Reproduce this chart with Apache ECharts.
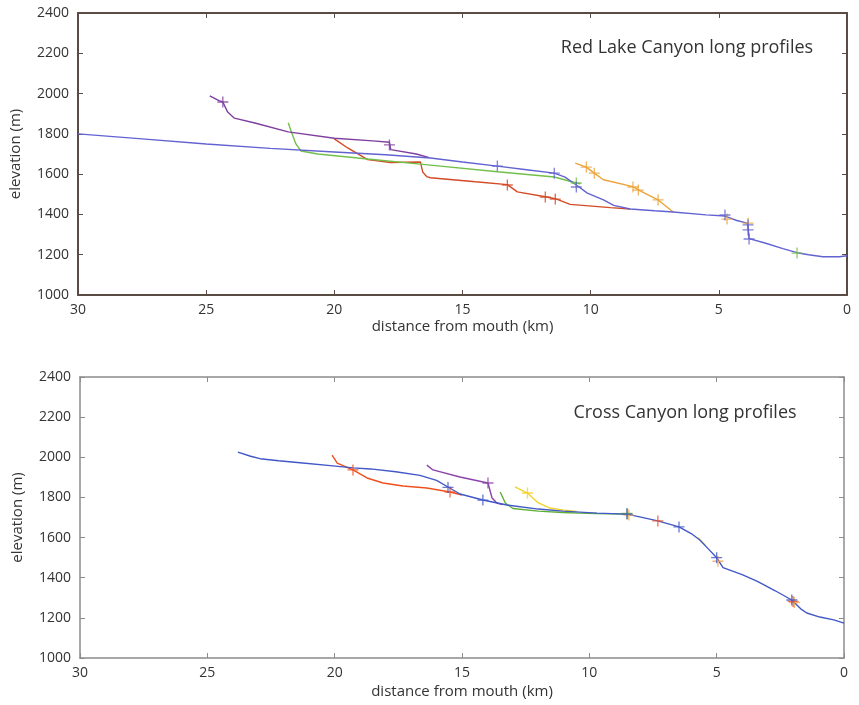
<!DOCTYPE html>
<html>
<head>
<meta charset="utf-8">
<script src="https://cdn.jsdelivr.net/npm/echarts@6/dist/echarts.min.js"></script>
<style>
html,body{margin:0;padding:0;background:#fff;}
#c{width:859px;height:705px;}
</style>
</head>
<body>
<div id="c"></div>
<script>
// ---------- data ----------
const xTicks = [0, 5, 10, 15, 20, 25, 30];
const yTicks = [1000, 1200, 1400, 1600, 1800, 2000, 2200, 2400];
const titleTop = "Red Lake Canyon long profiles";
const titleBottom = "Cross Canyon long profiles";
const xName = "distance from mouth (km)";
const yName = "elevation (m)";

// Red Lake Canyon (top) profiles [distance km, elevation m]
const redLakeBlue = [[30,1800],[27.5,1775],[25,1750],[22.5,1728],[20,1710],[18,1696],[16.25,1680],[15,1660],[13.64,1640],[12.5,1622],[11.42,1605],[11,1585],[10.56,1546],[10.13,1506],[9.5,1472],[9.1,1445],[8.46,1427],[7.5,1418],[6.78,1412],[5.5,1398],[4.76,1392],[4.3,1370],[3.9,1357],[3.86,1340],[3.82,1280],[3.2,1258],[2.5,1230],[1.95,1210],[1.5,1200],[0.94,1190],[0.3,1190],[0,1195]];
const redLakePurple = [[24.86,1988],[24.5,1965],[24.35,1958],[24.16,1908],[23.9,1878],[23.1,1854],[21.8,1810],[20,1778],[18.5,1765],[17.85,1758],[17.8,1722],[16.8,1700],[16.3,1682]];
const redLakeGreen = [[21.8,1855],[21.65,1800],[21.5,1750],[21.3,1715],[20.65,1700],[18.7,1675],[16.25,1645],[13.64,1612],[11.42,1586],[10.56,1556],[10.4,1552]];
const redLakeRed = [[20,1775],[19.48,1730],[18.7,1672],[17.8,1658],[16.64,1660],[16.55,1610],[16.4,1588],[16.25,1582],[14.5,1562],[13.25,1548],[12.86,1512],[11.77,1488],[11.38,1478],[10.8,1450],[9.23,1434],[8.46,1427]];
const redLakeOrange = [[10.6,1655],[10.17,1635],[9.86,1605],[9.5,1572],[8.35,1538],[8.14,1522],[7.8,1500],[7.37,1472],[6.78,1412]];

// knickpoint markers (top)
const redLakeBlueMarks = [[13.64,1640],[11.42,1605],[10.56,1536],[4.76,1397],[3.86,1348],[3.86,1323],[3.82,1278]];
const redLakePurpleMarks = [[24.35,1958],[17.85,1745]];
const redLakeGreenMarks = [[10.56,1556],[1.95,1208]];
const redLakeRedMarks = [[13.25,1546],[11.77,1486],[11.38,1476]];
const redLakeOrangeMarks = [[10.17,1635],[9.86,1605],[8.35,1536],[8.14,1521],[7.37,1472],[4.68,1377],[3.86,1357]];

// Cross Canyon (bottom) profiles
const crossBlue = [[23.8,2026],[23.3,2005],[22.93,1993],[22.2,1983],[21.36,1973],[20.07,1957],[19.28,1947],[18.6,1942],[17.6,1928],[16.65,1910],[16.0,1885],[15.55,1852],[15.08,1817],[14.18,1787],[13.24,1762],[12,1742],[11.04,1732],[9.7,1722],[8.52,1717],[7.31,1683],[6.48,1653],[6.0,1620],[5.66,1588],[5.3,1540],[5.0,1500],[4.75,1450],[4.0,1415],[3.4,1382],[2.7,1335],[2.05,1289],[1.7,1245],[1.46,1224],[0.95,1204],[0.4,1190],[0,1174]];
const crossRed = [[20.1,2011],[19.9,1971],[19.28,1937],[18.73,1897],[18.1,1872],[17.32,1857],[16.38,1847],[15.47,1827],[15.0,1812]];
const crossPurple = [[16.38,1961],[16.14,1937],[15.08,1902],[13.98,1872],[13.82,1797],[13.63,1772],[13.4,1765]];
const crossGreen = [[13.5,1827],[13.3,1772],[13.0,1745],[12,1732],[11.04,1725],[10.4,1722],[9.7,1720],[8.52,1717]];
const crossYellow = [[12.92,1852],[12.43,1822],[12.05,1777],[11.55,1747],[11.0,1737],[10.5,1730]];
const crossYellow2 = [[5.75,1600],[5.45,1562]];

const crossBlueMarks = [[15.55,1850],[14.18,1787],[8.52,1717],[6.48,1653],[5.0,1500],[2.05,1289]];
const crossRedMarks = [[19.28,1937],[15.47,1827],[7.31,1683],[2.0,1282]];
const crossPurpleMarks = [[13.98,1872]];
const crossYellowMarks = [[12.43,1822]];
const crossGreenMarks = [[8.52,1720]];
const crossOrangeMarks = [[8.45,1712],[4.95,1482],[1.95,1276]];

// ---------- chart ----------
const FONT = "Open Sans";
const plus = 'path://M-0.6,-5 L0.6,-5 L0.6,-0.6 L5,-0.6 L5,0.6 L0.6,0.6 L0.6,5 L-0.6,5 L-0.6,0.6 L-5,0.6 L-5,-0.6 L-0.6,-0.6 Z';

function line(data, color, xi, yi, z) {
  return {type:'line', data:data, xAxisIndex:xi, yAxisIndex:yi, showSymbol:false, symbol:'none',
    lineStyle:{color:color, width:1.4}, itemStyle:{color:color}, z:z||2, animation:false, silent:true};
}
function marks(data, color, xi, yi, z) {
  return {type:'scatter', data:data, xAxisIndex:xi, yAxisIndex:yi, symbol:plus, symbolSize:11,
    itemStyle:{color:color}, z:z||3, animation:false, silent:true};
}

function axesFor(gi, frameColor, frameWidth) {
  const common = {min:0, max:30, interval:5, inverse:true, type:'value', gridIndex:gi,
    axisLine:{show:true, onZero:false, lineStyle:{color:frameColor, width:frameWidth}},
    axisTick:{show:true, inside:true, length:5, lineStyle:{color:frameColor, width:1}},
    splitLine:{show:false}};
  const xb = Object.assign({}, common, {position:'bottom',
    axisLabel:{color:'#333', fontSize:14, fontFamily:FONT, margin:8,
      formatter: v => xTicks.indexOf(v) >= 0 ? String(v) : ''},
    name:xName, nameLocation:'middle', nameGap: gi===0 ? 24 : 26,
    nameTextStyle:{color:'#333', fontSize:15, fontFamily:FONT}});
  const xt = Object.assign({}, common, {position:'top', axisLabel:{show:false}});
  const ycommon = {min:1000, max:2400, interval:200, type:'value', gridIndex:gi,
    axisLine:{show:true, onZero:false, lineStyle:{color:frameColor, width:frameWidth}},
    axisTick:{show:true, inside:true, length:5, lineStyle:{color:frameColor, width:1}},
    splitLine:{show:false}};
  const yl = Object.assign({}, ycommon, {position:'left',
    axisLabel:{color:'#333', fontSize:14, fontFamily:FONT, margin:9,
      formatter: v => yTicks.indexOf(v) >= 0 ? String(v) : ''},
    name:yName, nameLocation:'middle', nameGap:55, nameRotate:90,
    nameTextStyle:{color:'#333', fontSize:15, fontFamily:FONT}});
  const yr = Object.assign({}, ycommon, {position:'right', axisLabel:{show:false}});
  return {x:[xb, xt], y:[yl, yr]};
}

const a0 = axesFor(0, '#5a4c44', 2);
const a1 = axesFor(1, '#8c8c8c', 1.5);

const topBlue = '#6262d2', topPurple = '#7e3f9e', topGreen = '#72c04a', topRed = '#d24a26', topOrange = '#eba33a';
const botBlue = '#4158c6', botRed = '#f0501e', botPurple = '#8a44aa', botGreen = '#5fae34', botYellow = '#f2d22a', botOrange = '#f7a04a';

const option = {
  backgroundColor:'#fff',
  animation:false,
  grid:[
    {left:77, top:13, width:770, height:282, show:false},
    {left:80, top:377, width:764, height:281, show:false}
  ],
  xAxis:[a0.x[0], a0.x[1], a1.x[0], a1.x[1]],
  yAxis:[a0.y[0], a0.y[1], a1.y[0], a1.y[1]],
  title:[
    {text:titleTop, left:682, top:34, textAlign:'center',
      textStyle:{fontFamily:FONT, fontSize:18, fontWeight:'normal', color:'#333'}},
    {text:titleBottom, left:680, top:399, textAlign:'center',
      textStyle:{fontFamily:FONT, fontSize:18, fontWeight:'normal', color:'#333'}}
  ],
  series:[
    line(redLakeOrange, topOrange, 0, 0, 2),
    line(redLakeRed, topRed, 0, 0, 3),
    line(redLakeGreen, topGreen, 0, 0, 3),
    line(redLakePurple, topPurple, 0, 0, 4),
    line(redLakeBlue, topBlue, 0, 0, 5),
    marks(redLakeOrangeMarks, topOrange, 0, 0, 6),
    marks(redLakeRedMarks, topRed, 0, 0, 6),
    marks(redLakeGreenMarks, topGreen, 0, 0, 6),
    marks(redLakePurpleMarks, topPurple, 0, 0, 6),
    marks(redLakeBlueMarks, topBlue, 0, 0, 7),

    line(crossYellow, botYellow, 2, 2, 2),
    line(crossYellow2, botYellow, 2, 2, 2),
    line(crossGreen, botGreen, 2, 2, 3),
    line(crossRed, botRed, 2, 2, 3),
    line(crossPurple, botPurple, 2, 2, 4),
    line(crossBlue, botBlue, 2, 2, 5),
    marks(crossOrangeMarks, botOrange, 2, 2, 6),
    marks(crossRedMarks, botRed, 2, 2, 6),
    marks(crossYellowMarks, botYellow, 2, 2, 6),
    marks(crossGreenMarks, botGreen, 2, 2, 6),
    marks(crossPurpleMarks, botPurple, 2, 2, 6),
    marks(crossBlueMarks, botBlue, 2, 2, 7)
  ]
};

const chart = echarts.init(document.getElementById('c'), null, {renderer:'canvas'});
chart.setOption(option);
</script>
</body>
</html>
